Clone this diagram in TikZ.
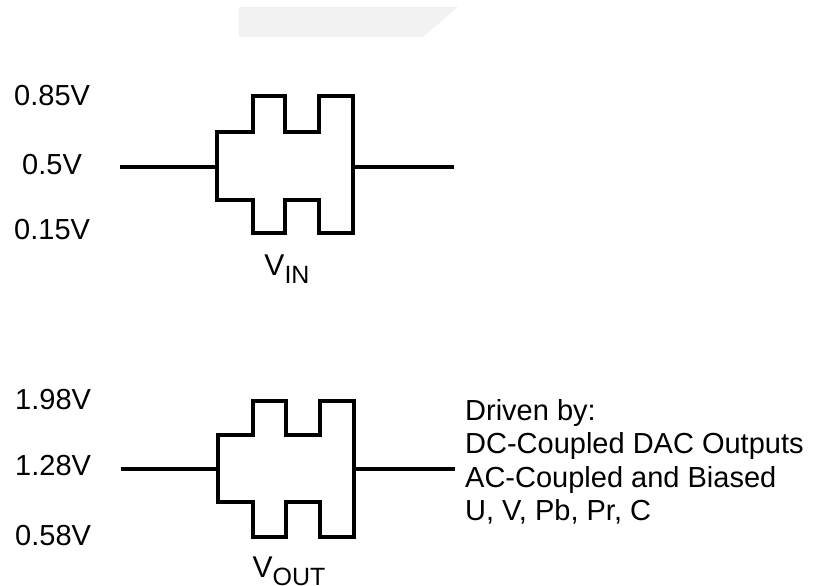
\documentclass[tikz,border=0pt]{standalone}
\usepackage{fontspec}
\setmainfont{Liberation Sans}
\begin{document}
\begin{tikzpicture}[x=1pt,y=-1pt,
  wave/.style={line width=3.6pt,line join=miter,black},
  lvl/.style={anchor=west,inner sep=0pt,font=\fontsize{29}{33}\selectfont},
  note/.style={anchor=base west,inner sep=0pt,font=\fontsize{29}{33}\selectfont},
  sig/.style={anchor=base,inner sep=0pt,font=\fontsize{30}{33}\selectfont},
  shade/.style={fill=black!5,draw=none}]
\useasboundingbox (0,0) rectangle (819,586);
% faint background band
\fill[shade] (239,7) -- (458,7) -- (423,37) -- (239,37) -- cycle;
% top waveform
\coordinate (inL) at (120,167);
\coordinate (inR) at (454,167);
\draw[wave] (inL) -- (217,167);
\draw[wave] (217,167) -- (217,132) -- (253,132) -- (253,96) -- (285,96) -- (285,132)
  -- (319,132) -- (319,96) -- (353,96) -- (353,233) -- (319,233) -- (319,200)
  -- (285,200) -- (285,233) -- (253,233) -- (253,200) -- (217,200) -- cycle;
\draw[wave] (353,167) -- (inR);
% bottom waveform
\coordinate (outL) at (121,469);
\coordinate (outR) at (455,469);
\draw[wave] (outL) -- (218,469);
\draw[wave] (218,469) -- (218,435) -- (253,435) -- (253,401) -- (286,401) -- (286,435)
  -- (320,435) -- (320,401) -- (354,401) -- (354,537) -- (320,537) -- (320,502)
  -- (286,502) -- (286,537) -- (253,537) -- (253,502) -- (218,502) -- cycle;
\draw[wave] (354,469) -- (outR);
% level labels
\node[lvl] (l1) at (14,96) {0.85V};
\node[lvl] (l2) at (22,165) {0.5V};
\node[lvl] (l3) at (14,230) {0.15V};
\node[lvl] (l4) at (15,400) {1.98V};
\node[lvl] (l5) at (15,466) {1.28V};
\node[lvl] (l6) at (15,536) {0.58V};
% signal names
\node[sig] (vin) at (287,275) {V\raisebox{-8pt}{\fontsize{25}{25}\selectfont IN}};
\node[sig] (vout) at (289,577) {V\raisebox{-8pt}{\fontsize{25}{25}\selectfont OUT}};
% note
\node[note] (t1) at (465,420) {Driven by:};
\node[note] (t2) at (465,453) {DC-Coupled DAC Outputs};
\node[note] (t3) at (465,487) {AC-Coupled and Biased};
\node[note] (t4) at (465,520) {U, V, Pb, Pr, C};
\end{tikzpicture}
\end{document}
